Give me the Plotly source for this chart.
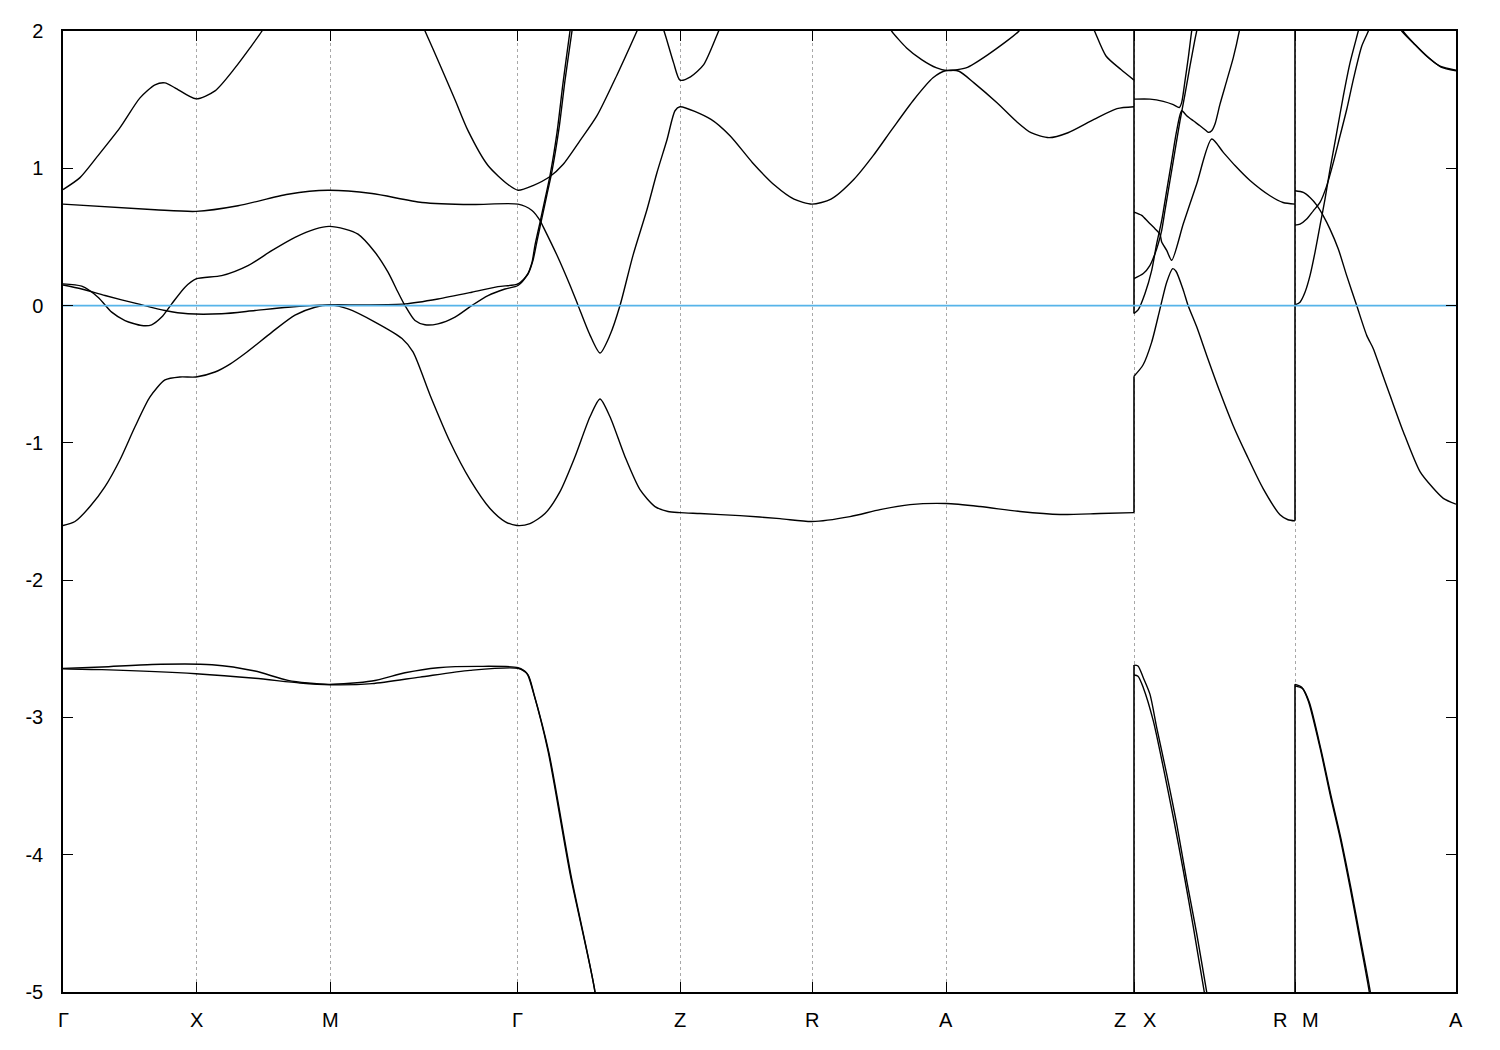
import plotly.graph_objects as go

# ---- high-symmetry points (path distance, arbitrary units) ----
sym_k = [0, 133, 267, 454, 617, 749, 883, 1071, 1232, 1393]
label_k = [0, 133, 267, 454, 617, 749, 883, 1057, 1086, 1217, 1247, 1393]
label_text = ["Γ", "X", "M", "Γ", "Z", "R", "A", "Z", "X", "R", "M", "A"]
y_ticks = [-5, -4, -3, -2, -1, 0, 1, 2]

# ---- bands along Γ-X-M-Γ-Z-R-A-Z ----
low1_k = [0, 39, 89, 149, 192, 225, 265, 309, 342, 375, 415, 455, 464, 470, 485, 507, 532, 537]
low1_E = [-2.643, -2.633, -2.614, -2.616, -2.662, -2.730, -2.759, -2.735, -2.675, -2.638, -2.628, -2.638,
          -2.68, -2.81, -3.243, -4.136, -5.0, -5.4]
low2_k = [0, 39, 133, 192, 237, 267, 309, 357, 407, 455, 465, 471, 486, 508, 532, 537]
low2_E = [-2.645, -2.652, -2.682, -2.715, -2.749, -2.762, -2.754, -2.706, -2.657, -2.643,
          -2.69, -2.83, -3.26, -4.15, -5.0, -5.4]

b3_k = [0, 12, 27, 42, 57, 72, 87, 102, 117, 133, 152, 167, 184, 209, 232, 252, 267, 285, 312, 339, 350, 367,
        387, 407, 427, 442, 454, 467, 482, 497, 512, 527, 537, 547, 562, 577, 592, 605, 617,
        637, 677, 717, 749, 787, 817, 847, 883, 917, 957, 997, 1037, 1071]
b3_E = [-1.602, -1.573, -1.464, -1.319, -1.123, -0.883, -0.665, -0.542, -0.520, -0.520, -0.484, -0.426, -0.338,
        -0.193, -0.070, -0.012, 0.003, -0.024, -0.12, -0.24, -0.338, -0.651, -0.992, -1.268, -1.478, -1.573,
        -1.602, -1.588, -1.515, -1.355, -1.101, -0.81, -0.68, -0.81, -1.101, -1.341, -1.464, -1.5, -1.508,
        -1.515, -1.530, -1.552, -1.573, -1.537, -1.486, -1.450, -1.442, -1.464, -1.500, -1.522, -1.515, -1.508]

P_k = [0, 18.7, 35, 48.7, 62, 78.7, 88.7, 98.7, 108.7, 122, 133, 158.7, 185, 208.7, 232, 252, 266, 282, 295,
       312, 325, 335, 342, 352, 362, 375, 392, 408.7, 425, 442, 455, 464, 469, 472, 477, 482, 487, 494, 500,
       507, 509]
P_E = [0.158, 0.141, 0.061, -0.048, -0.109, -0.145, -0.14, -0.084, 0.012, 0.134, 0.194, 0.218, 0.291, 0.40,
       0.497, 0.557, 0.577, 0.557, 0.52, 0.388, 0.243, 0.097, 0.0, -0.109, -0.14, -0.133, -0.084, 0.0, 0.073,
       0.121, 0.146, 0.221, 0.315, 0.44, 0.606, 0.775, 0.947, 1.26, 1.62, 2.0, 2.1]

Q_k = [0, 18.7, 42, 75, 102, 125, 158.7, 192, 225, 266, 302, 342, 375, 408.7, 435, 455, 465, 470, 474,
       479, 484, 489, 496, 502, 509, 511]
Q_E = [0.15, 0.121, 0.073, 0.012, -0.036, -0.06, -0.06, -0.036, -0.012, 0.005, 0.005, 0.012, 0.048, 0.097,
       0.138, 0.158, 0.23, 0.33, 0.47, 0.64, 0.81, 0.98, 1.29, 1.64, 2.0, 2.1]

C6_k = [0, 92, 133, 175, 225, 265, 309, 359, 409, 455, 469, 477, 480, 494, 507, 515, 527, 537, 547, 557,
        570, 584, 594, 604, 612, 617, 648, 667, 689.5, 712, 731, 749, 768, 791, 810, 829, 851, 870, 883,
        896, 911, 934, 953, 968, 986, 1005, 1031, 1054, 1071]
C6_E = [0.739, 0.698, 0.686, 0.727, 0.811, 0.840, 0.816, 0.751, 0.736, 0.739, 0.693, 0.620, 0.577, 0.366,
        0.148, 0.003, -0.215, -0.346, -0.215, 0.0, 0.366, 0.70, 0.969, 1.208, 1.419, 1.448, 1.356, 1.237,
        1.041, 0.874, 0.775, 0.739, 0.775, 0.920, 1.09, 1.283, 1.501, 1.659, 1.712, 1.707, 1.622, 1.477,
        1.344, 1.259, 1.223, 1.259, 1.356, 1.434, 1.448]

C7_k = [0, 17, 35, 57, 77, 92, 102, 112, 133, 152, 172, 187, 199, 205, None,
        357, 362, 377, 392, 405, 425, 445, 455, 470, 487, 500, 517, 534, 554, 574, 577]
C7_E = [0.845, 0.932, 1.092, 1.296, 1.513, 1.608, 1.622, 1.586, 1.506, 1.564, 1.731, 1.877, 2.0, 2.08, None,
        2.08, 2.0, 1.753, 1.499, 1.274, 1.02, 0.882, 0.84, 0.874, 0.940, 1.027, 1.201, 1.383, 1.680, 2.0, 2.05]

UZ_k = [598, 601, 610.6, 617, 627.5, 640.7, 655.7, 659]
UZ_E = [2.05, 2.0, 1.768, 1.642, 1.666, 1.755, 2.0, 2.05]
UA_k = [825, 828.6, 843.6, 858.6, 873.7, 883, 903, 925, 956, 960]
UA_E = [2.05, 2.0, 1.877, 1.792, 1.731, 1.712, 1.731, 1.828, 2.0, 2.05]
UZ2_k = [1028, 1031.5, 1043, 1058, 1071]
UZ2_E = [2.05, 2.0, 1.818, 1.719, 1.642]

# ---- bands along X-R ----
xr_low1_k = [1071, 1075, 1080.3, 1087, 1093.7, 1103.7, 1113.7, 1123.7, 1133.7, 1143.7, 1146]
xr_low1_E = [-2.619, -2.625, -2.711, -2.832, -3.074, -3.413, -3.776, -4.188, -4.575, -5.0, -5.1]
xr_low2_k = [1071, 1075, 1080.3, 1090.3, 1100.3, 1110.3, 1120.3, 1130.3, 1141.3, 1144]
xr_low2_E = [-2.691, -2.70, -2.783, -3.025, -3.364, -3.727, -4.115, -4.526, -5.0, -5.1]
xr_a_k = [1071, 1080, 1088.7, 1097, 1103.7, 1109.7, 1113, 1120.3, 1125, 1133.7, 1143.7, 1157, 1170, 1183.7,
          1200, 1217, 1225, 1232]
xr_a_E = [-0.515, -0.433, -0.266, -0.024, 0.17, 0.269, 0.25, 0.112, 0.003, -0.155, -0.363, -0.63, -0.871,
          -1.089, -1.331, -1.524, -1.56, -1.568]
xr_b_k = [1071, 1075.3, 1082, 1088.7, 1093.7, 1098.7, 1103.7, 1108.7, 1113.7, 1118.7, 1123.7, 1130.3, 1137,
          1142, 1145.3, 1148.7, 1152, 1157, 1163.7, 1170.3, 1176.3, 1177.5]
xr_b_E = [-0.058, -0.029, 0.088, 0.257, 0.451, 0.620, 0.838, 1.056, 1.274, 1.419, 1.383, 1.346, 1.310, 1.281,
          1.262, 1.274, 1.322, 1.467, 1.637, 1.806, 2.0, 2.05]
xr_c_k = [1071, 1080.3, 1087, 1092, 1095.3, 1098.7, 1102, 1107, 1112, 1117, 1122, 1127, 1132, 1133.7, 1135]
xr_c_E = [0.197, 0.233, 0.293, 0.378, 0.451, 0.548, 0.693, 0.911, 1.128, 1.346, 1.54, 1.746, 1.94, 2.0, 2.05]
xr_d_k = [1071, 1078.7, 1085.3, 1092, 1097, 1098.7, 1103.7, 1108.7, 1120.3, 1133.7, 1148.7, 1160.3, 1172,
          1187, 1207, 1220, 1232]
xr_d_E = [0.681, 0.657, 0.608, 0.560, 0.519, 0.463, 0.402, 0.330, 0.596, 0.886, 1.213, 1.116, 1.020, 0.911,
          0.8, 0.751, 0.739]
xr_e_k = [1071, 1087, 1100.3, 1110.3, 1116.3, 1118.7, 1122, 1125.3, 1128.7, 1130]
xr_e_E = [1.504, 1.504, 1.487, 1.463, 1.443, 1.48, 1.637, 1.806, 2.0, 2.05]

# ---- bands along M-A ----
ma_low1_k = [1232, 1238.7, 1245.3, 1257, 1267, 1277, 1287, 1297, 1306.3, 1308]
ma_low1_E = [-2.759, -2.78, -2.88, -3.22, -3.558, -3.873, -4.236, -4.625, -5.0, -5.1]
ma_low2_k = [1232, 1239.5, 1246.3, 1258, 1268, 1278, 1288, 1298, 1307.3, 1309]
ma_low2_E = [-2.77, -2.79, -2.89, -3.235, -3.57, -3.885, -4.245, -4.635, -5.0, -5.1]
ma_a_k = [1232, 1237, 1242, 1247, 1252, 1257, 1262, 1267, 1273.7, 1280.3, 1287, 1295.3, 1297]
ma_a_E = [0.005, 0.025, 0.097, 0.218, 0.388, 0.582, 0.775, 0.993, 1.259, 1.526, 1.768, 2.0, 2.05]
ma_b_k = [1232, 1237, 1243.7, 1250.3, 1257, 1263.7, 1270.3, 1277, 1283.7, 1290.3, 1298.7, 1305.3, 1307]
ma_b_E = [0.586, 0.593, 0.63, 0.69, 0.751, 0.872, 1.041, 1.235, 1.428, 1.646, 1.889, 2.0, 2.05]
ma_c_k = [1232, 1240.3, 1247, 1253.7, 1260.3, 1267, 1275.3, 1283.7, 1293.7, 1303.7, 1310.3, 1317, 1327,
          1340.3, 1357, 1370.3, 1380.3, 1393]
ma_c_E = [0.836, 0.824, 0.787, 0.732, 0.654, 0.557, 0.412, 0.218, 0.0, -0.217, -0.314, -0.45, -0.653,
          -0.919, -1.21, -1.331, -1.404, -1.447]
ma_t1_k = [1335, 1338.7, 1350.3, 1363.7, 1377, 1393]
ma_t1_E = [2.05, 2.0, 1.913, 1.816, 1.744, 1.715]
ma_t2_k = [1336.5, 1340, 1351.5, 1365, 1378, 1393]
ma_t2_E = [2.05, 2.0, 1.905, 1.81, 1.737, 1.71]

# ---- vertical jumps at the path discontinuities (Z|X and R|M) ----
jump_ZX_lo = [-5.5, -1.508, -0.058]
jump_ZX_hi = [-2.619, -0.515, 2.5]
jump_RM_lo = [-5.5, -1.568]
jump_RM_hi = [-2.759, 2.5]

curves = [
    (low1_k, low1_E), (low2_k, low2_E), (b3_k, b3_E), (P_k, P_E), (Q_k, Q_E),
    (C6_k, C6_E), (C7_k, C7_E), (UZ_k, UZ_E), (UA_k, UA_E), (UZ2_k, UZ2_E),
    (xr_low1_k, xr_low1_E), (xr_low2_k, xr_low2_E), (xr_a_k, xr_a_E), (xr_b_k, xr_b_E),
    (xr_c_k, xr_c_E), (xr_d_k, xr_d_E), (xr_e_k, xr_e_E),
    (ma_low1_k, ma_low1_E), (ma_low2_k, ma_low2_E), (ma_a_k, ma_a_E), (ma_b_k, ma_b_E),
    (ma_c_k, ma_c_E), (ma_t1_k, ma_t1_E), (ma_t2_k, ma_t2_E),
]

fig = go.Figure()
line = dict(color="black", width=1.4, shape="spline", smoothing=0.7)
for kk, ee in curves:
    fig.add_trace(go.Scatter(x=kk, y=ee, mode="lines", line=line, connectgaps=False,
                             hoverinfo="skip", showlegend=False))

for pos, los, his in [(sym_k[7], jump_ZX_lo, jump_ZX_hi), (sym_k[8], jump_RM_lo, jump_RM_hi)]:
    for lo, hi in zip(los, his):
        fig.add_trace(go.Scatter(x=[pos, pos], y=[lo, hi], mode="lines", line=dict(color="black", width=1.6),
                                 hoverinfo="skip", showlegend=False))

# Fermi level
fig.add_trace(go.Scatter(x=[sym_k[0], sym_k[-1]], y=[0, 0], mode="lines",
                         line=dict(color="#56b4e9", width=1.8), hoverinfo="skip", showlegend=False))

font = dict(family="Liberation Sans Narrow, Liberation Sans, Arial, sans-serif", size=20, color="black")
for kx, txt in zip(label_k, label_text):
    fig.add_annotation(x=kx, y=0, xref="x", yref="paper", text=txt, showarrow=False,
                       yanchor="middle", yshift=-28, font=font)

fig.update_layout(
    width=1500, height=1050,
    margin=dict(l=55, r=52, t=20, b=66),
    paper_bgcolor="white", plot_bgcolor="white",
    font=font,
    xaxis=dict(range=[sym_k[0], sym_k[-1]], tickvals=sym_k, showticklabels=False,
               ticks="inside", ticklen=10, tickwidth=1.3, tickcolor="black",
               showline=True, linecolor="black", linewidth=1.5, mirror="ticks",
               showgrid=True, gridcolor="#a8a8a8", gridwidth=1, griddash="3px,3px",
               zeroline=False),
    yaxis=dict(range=[-5, 2], tickvals=y_ticks, ticktext=[str(v) for v in y_ticks],
               ticks="inside", ticklen=10, tickwidth=1.3, tickcolor="black",
               showline=True, linecolor="black", linewidth=1.5, mirror="ticks",
               showgrid=False, zeroline=False, ticklabelstandoff=14),
)

fig.write_html("out.html")
